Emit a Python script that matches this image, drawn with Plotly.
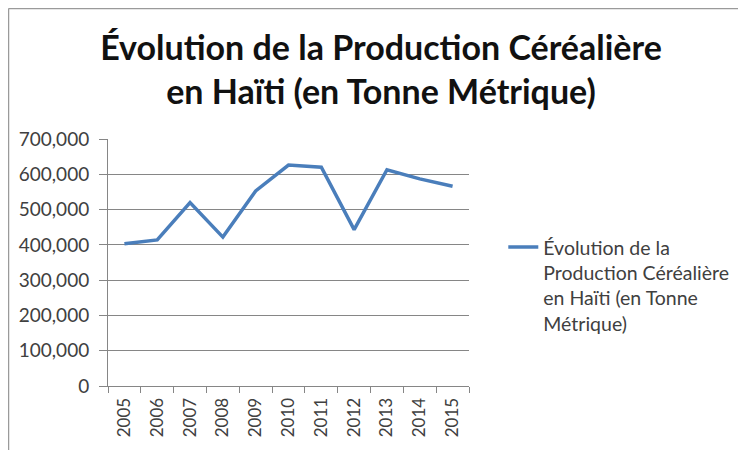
import plotly.graph_objects as go

years = ["2005", "2006", "2007", "2008", "2009", "2010", "2011", "2012", "2013", "2014", "2015"]
production = [403000, 414000, 520000, 422000, 553000, 626000, 620000, 443000, 613000, 587000, 566000]
series_name = "Évolution de la<br>Production Céréalière<br>en Haïti (en Tonne<br>Métrique)"
title_text = "<b>Évolution de la Production Céréalière<br>en Haïti (en Tonne Métrique)</b>"

W, H = 746, 450
# page body adds an 8px offset, so margins are shifted to compensate
ml, mr, mt, mb = 100, 285, 131, 72

fig = go.Figure(go.Scatter(
    x=years, y=production, mode="lines", name=series_name,
    line=dict(color="#4a7ebb", width=3.5),
))

fig.update_layout(
    width=W, height=H,
    margin=dict(l=ml, r=mr, t=mt, b=mb, autoexpand=False),
    paper_bgcolor="white", plot_bgcolor="white",
    font=dict(family="Lato, Carlito, sans-serif", color="#404040"),
    title=dict(text=title_text, x=0.5, xanchor="center", y=0.884, yanchor="middle",
               font=dict(size=34, color="#111111")),
    showlegend=True,
    legend=dict(x=1.095, y=0.64, xanchor="left", yanchor="top", valign="top",
                font=dict(size=19.5, color="#404040"), bgcolor="rgba(0,0,0,0)"),
    xaxis=dict(type="category", range=[-0.5, len(years) - 0.5], tickangle=-90,
               tickson="boundaries", ticks="outside",
               ticklen=6, tickcolor="#868686", showline=True, linecolor="#868686",
               showgrid=False, tickfont=dict(size=17), ticklabelstandoff=4),
    yaxis=dict(range=[0, 700000], tickvals=[0, 100000, 200000, 300000, 400000, 500000, 600000, 700000],
               tickformat=",d", ticks="outside", ticklen=8, tickcolor="#868686",
               showline=True, linecolor="#868686", gridcolor="#868686", gridwidth=1,
               zeroline=False, tickfont=dict(size=19), ticklabelstandoff=6),
)

# chart frame (top and left edges visible)
pw, ph = W - ml - mr, H - mt - mb
fig.add_shape(type="line", xref="paper", yref="paper",
              x0=(0.5 - ml) / pw, x1=(W - ml) / pw, y0=(H - 0.5 - mb) / ph, y1=(H - 0.5 - mb) / ph,
              line=dict(color="#9a9a9a", width=1.5))
fig.add_shape(type="line", xref="paper", yref="paper",
              x0=(0.5 - ml) / pw, x1=(0.5 - ml) / pw, y0=(H - 0.5 - mb) / ph, y1=-mb / ph,
              line=dict(color="#9a9a9a", width=1.5))

fig.write_html("out.html")
